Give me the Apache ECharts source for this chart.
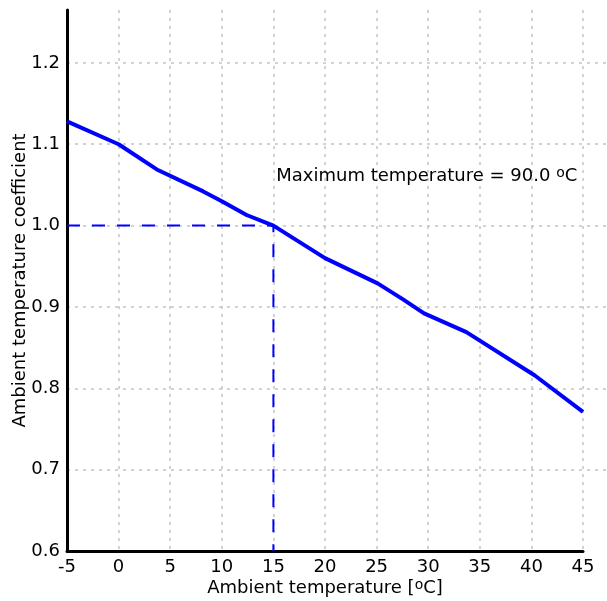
<!DOCTYPE html>
<html>
<head>
<meta charset="utf-8">
<script src="https://cdn.jsdelivr.net/npm/echarts@6/dist/echarts.min.js"></script>
<style>
  html, body { margin: 0; height: 100%; background: #fff; }
  #container { width: 607px; height: 601px; }
</style>
</head>
<body>
<div id="container"></div>
<script>
  // ambient temperature (degC) -> coefficient
  const tempList = [-5, 0, 3.7, 8.2, 10, 12.4, 15, 20, 25.1, 27.6, 29.6, 33.7, 40.3, 45];
  const coefList = [1.128, 1.100, 1.069, 1.042, 1.030, 1.013, 1.000, 0.960, 0.929, 0.909, 0.892, 0.869, 0.816, 0.771];

  // dashed guide: 1.0 at 15 degC
  const refX = [-5, 15, 15];
  const refY = [1.0, 1.0, 0.6];

  const noteAt = [15.28, 1.061];
  const noteText = 'Maximum temperature = 90.0 ';

  const font = 'DejaVu Sans';
  const gridColor = '#c4c4c4';

  const mChart = echarts.init(document.getElementById('container'), null, { renderer: 'canvas' });

  const isTick = (v, step) => Math.abs(v / step - Math.round(v / step)) < 1e-6;

  // text with a raised "o" before the C
  const supRich = {
    a: { fontFamily: font, fontSize: 18, color: '#000' },
    s: { fontFamily: font, fontSize: 14, color: '#000', verticalAlign: 'top', padding: [0, 0, 6, 0] }
  };

  const option = {
    animation: false,
    grid: [
      { left: 67, right: 24, top: 10, bottom: 50, outerBoundsMode: 'none', containLabel: false },
      { left: 67, right: 0, top: 10, bottom: 50, outerBoundsMode: 'none', containLabel: false }  // only for the horizontal grid lines
    ],
    xAxis: [
      {
        type: 'value',
        min: -5,
        max: 45,
        interval: 5,
        name: '{a|Ambient temperature [}{s|o}{a|C]}',
        nameLocation: 'middle',
        nameGap: 27,
        nameMoveOverlap: false,
        nameTextStyle: { rich: supRich },
        axisLine: { onZero: false, lineStyle: { color: '#000', width: 3 } },
        axisTick: { show: false },
        axisLabel: { fontFamily: font, fontSize: 18, color: '#000', margin: 7 },
        splitLine: { show: true, showMinLine: false, lineStyle: { color: gridColor, type: [3, 5], width: 1.5 } }
      },
      { type: 'value', gridIndex: 1, min: 0, max: 1, show: false }
    ],
    yAxis: [
      {
        type: 'value',
        min: 0.6,
        max: 1.265,
        interval: 0.1,
        name: 'Ambient temperature coefficient',
        nameLocation: 'middle',
        nameGap: 38,
        nameMoveOverlap: false,
        nameTextStyle: { fontFamily: font, fontSize: 18, color: '#000' },
        axisLine: { onZero: false, lineStyle: { color: '#000', width: 3 } },
        axisTick: { show: false },
        axisLabel: {
          fontFamily: font, fontSize: 18, color: '#000', margin: 7,
          showMaxLabel: false,
          formatter: v => isTick(v, 0.1) ? v.toFixed(1) : ''
        },
        splitLine: { show: false }
      },
      {
        type: 'value',
        gridIndex: 1,
        min: 0.6,
        max: 1.265,
        interval: 0.1,
        axisLine: { show: false },
        axisTick: { show: false },
        axisLabel: { show: false },
        splitLine: { show: true, showMinLine: false, showMaxLine: false, lineStyle: { color: gridColor, type: [3, 5], width: 1.5 } }
      }
    ],
    series: [
      {
        type: 'line',
        data: refX.map((x, i) => [x, refY[i]]),
        showSymbol: false,
        lineStyle: { color: '#0000ff', width: 2, type: [13, 12] },
        z: 3
      },
      {
        type: 'line',
        data: tempList.map((t, i) => [t, coefList[i]]),
        showSymbol: false,
        lineStyle: { color: '#0000ff', width: 4 },
        z: 4
      },
      {
        type: 'scatter',
        data: [noteAt],
        symbolSize: 0,
        silent: true,
        itemStyle: { opacity: 1 },
        label: {
          show: true,
          position: 'right',
          distance: 0,
          color: '#000',
          opacity: 1,
          formatter: '{a|' + noteText + '}{s|o}{a|C}',
          rich: supRich
        }
      }
    ]
  };

  mChart.setOption(option);
  window.addEventListener('resize', mChart.resize);
</script>
</body>
</html>
